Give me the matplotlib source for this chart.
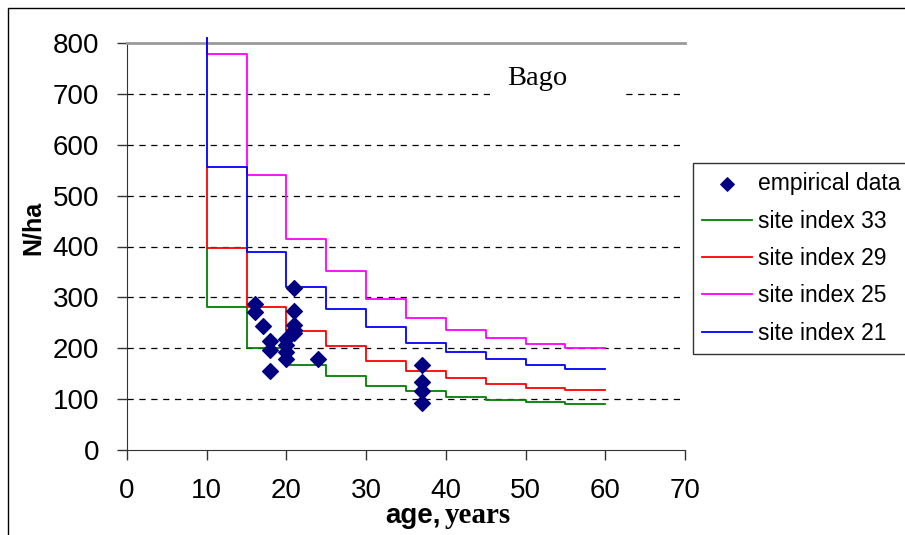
import matplotlib
matplotlib.use("Agg")
import matplotlib.pyplot as plt
from matplotlib.patches import Rectangle

plt.rcParams['font.family'] = ['Liberation Sans', 'DejaVu Sans']

# step edges (age, years) and stand density levels N/ha for each site index
ages = [10, 15, 20, 25, 30, 35, 40, 45, 50, 55, 60]
si33 = [281, 201, 168, 145, 126, 116, 105, 99, 94, 90]
si29 = [397, 282, 233, 204, 174, 156, 141, 130, 122, 118]
si25 = [778, 541, 415, 352, 297, 259, 236, 220, 208, 200]
si21 = [556, 389, 321, 277, 241, 211, 193, 178, 168, 159]
# level each curve drops from at age 10
start = {'33': 398, '29': 555, '25': 810, '21': 810}

# empirical plots
emp_age = [16, 16, 17, 18, 18, 18, 20, 20, 20, 20, 21, 21, 21, 21, 21, 24, 37, 37, 37, 37]
emp_n = [287, 272, 244, 214, 197, 156, 218, 206, 193, 178, 319, 273, 246, 236, 230, 179, 167, 134, 115, 92]

xticks = [0, 10, 20, 30, 40, 50, 60, 70]
yticks = [0, 100, 200, 300, 400, 500, 600, 700, 800]

W, H = 905, 535
fig = plt.figure(figsize=(W / 100, H / 100), dpi=100)
ax = fig.add_axes([127 / W, 1 - 450 / H, (685 - 127) / W, (450 - 43) / H])

# outer chart frame (runs off the right and bottom edge)
fig.patches.append(Rectangle((8 / W, -0.1), 1.2, 1 - 8 / H + 0.1, transform=fig.transFigure,
                             fill=False, edgecolor='black', lw=1.0))

ax.set_xlim(0, 70)
ax.set_ylim(0, 800)
ax.set_xticks(xticks)
ax.set_yticks(yticks)
ax.tick_params(axis='both', labelsize=20, direction='out', length=7, width=1, colors='#333333',
               labelcolor='black')
ax.tick_params(axis='y', pad=13)
ax.tick_params(axis='x', pad=13)

for y in yticks[1:-1]:
    ax.axhline(y, color='black', lw=0.9, linestyle=(0, (5, 4.5)), zorder=0)

ax.spines['right'].set_visible(False)
ax.spines['top'].set_color('#999999')
ax.spines['top'].set_linewidth(2)
ax.spines['left'].set_color('#333333')
ax.spines['bottom'].set_color('#333333')

ax.scatter(emp_age, emp_n, marker='D', s=64, color='#000080', zorder=5, label='empirical data')

series = [('33', si33, '#008000'), ('29', si29, '#ff0000'),
          ('25', si25, '#ff00ff'), ('21', si21, '#0000ff')]
for name, vals, col in series:
    xs = [ages[0]] + ages
    ys = [start[name]] + vals + [vals[-1]]
    ax.plot(xs, ys, drawstyle='steps-post', color=col, lw=1.3, clip_on=False,
            label='site index ' + name, zorder=3)

# title box: white background hides the 700 gridline
ax.add_patch(Rectangle((0.650, 0.845), 0.239, 0.145, transform=ax.transAxes,
                       facecolor='white', edgecolor='none', zorder=1))
ax.text(0.7348, 0.8968, 'Bago', transform=ax.transAxes, fontsize=20.5,
        family='Liberation Serif', ha='center', va='baseline', zorder=4)

leg = ax.legend(loc='upper left', bbox_to_anchor=(693 / W, 1 - 163 / H),
                bbox_transform=fig.transFigure, fontsize=16.5, frameon=True, fancybox=False,
                borderaxespad=0, borderpad=0.4, labelspacing=0.63, handlelength=2.18,
                handletextpad=0.26, markerscale=0.85)
leg.get_frame().set_edgecolor('black')
leg.get_frame().set_linewidth(1.0)

fig.text(33 / W, 1 - 228 / H, 'N/ha', rotation=90, fontsize=18, fontweight='bold',
         ha='center', va='center')
fig.text(441 / W, 1 - 523 / H, 'age,', fontsize=20, fontweight='bold', ha='right', va='baseline')
fig.text(445 / W, 1 - 523 / H, 'years', fontsize=21, fontweight='bold',
         family='Liberation Serif', ha='left', va='baseline')

fig.savefig('out.png', dpi=100)
